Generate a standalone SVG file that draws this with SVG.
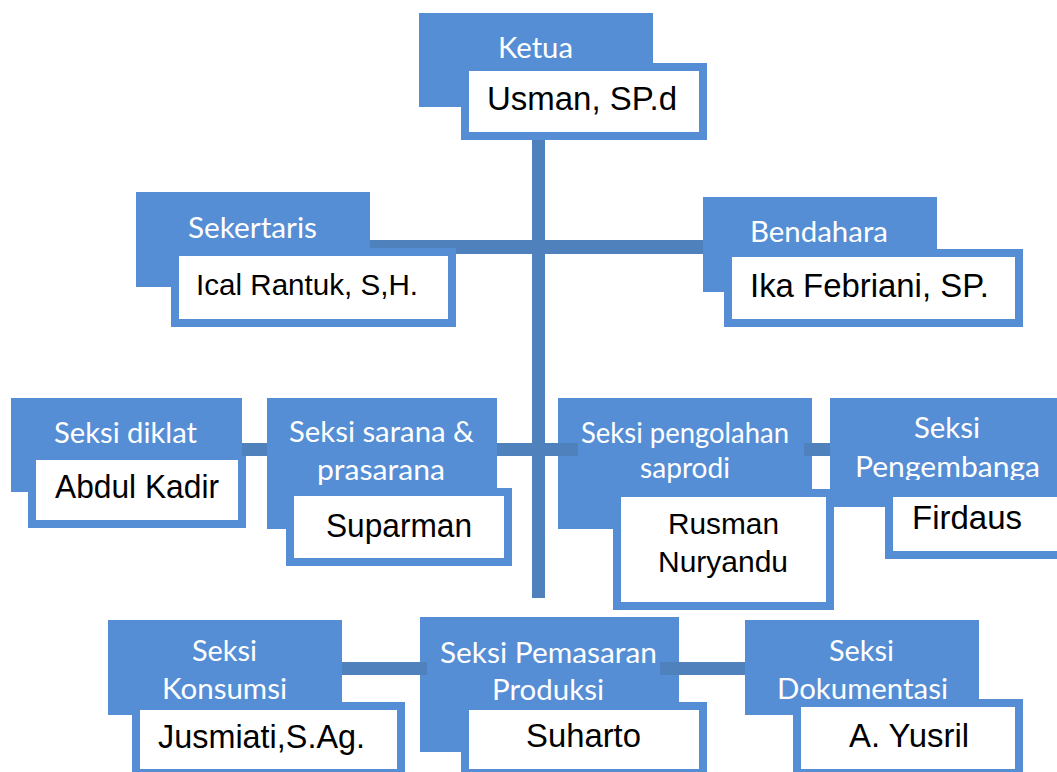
<svg xmlns="http://www.w3.org/2000/svg" width="1057" height="772" viewBox="0 0 1057 772">
<style>
.role{fill:#558ED5}
.name{fill:#FFFFFF;stroke:#558ED5;stroke-width:8}
.conn{fill:#4F81BD}
.lbl{font-family:Lato,"Open Sans",sans-serif;font-size:29.5px;fill:#FFFFFF}
.per{font-family:"Liberation Sans",Arial,sans-serif;font-size:32.5px;fill:#000000}
</style>
<defs>
<clipPath id="clipPeng"><rect x="830" y="398" width="227" height="82"/></clipPath>
</defs>
<rect width="1057" height="772" fill="#FFFFFF"/>

<g id="ketua">
<rect class="role" x="419" y="13" width="234" height="94"/>
<rect class="name" x="465" y="67" width="238" height="69"/>
<text class="lbl" x="498" y="58" textLength="75" lengthAdjust="spacingAndGlyphs">Ketua</text>
<text class="per" x="487" y="110" textLength="190" lengthAdjust="spacingAndGlyphs">Usman, SP.d</text>
</g>

<g id="sekertaris">
<rect class="role" x="136" y="192" width="234" height="95"/>
<rect class="name" x="175" y="252" width="277" height="71"/>
<text class="lbl" x="188" y="238" textLength="129" lengthAdjust="spacingAndGlyphs">Sekertaris</text>
<text class="per" x="196" y="295" style="font-size:30px" textLength="222" lengthAdjust="spacingAndGlyphs">Ical Rantuk, S,H.</text>
</g>

<g id="bendahara">
<rect class="role" x="703" y="197" width="234" height="95"/>
<rect class="name" x="728" y="253" width="291" height="70"/>
<text class="lbl" x="750" y="242" textLength="138" lengthAdjust="spacingAndGlyphs">Bendahara</text>
<text class="per" x="750" y="297" textLength="239" lengthAdjust="spacingAndGlyphs">Ika Febriani, SP.</text>
</g>

<g id="diklat">
<rect class="role" x="11" y="398" width="231" height="94"/>
<rect class="name" x="32" y="456" width="210" height="68"/>
<text class="lbl" x="54" y="443" textLength="143" lengthAdjust="spacingAndGlyphs">Seksi diklat</text>
<text class="per" x="55" y="498" textLength="164" lengthAdjust="spacingAndGlyphs">Abdul Kadir</text>
</g>

<g id="sarana">
<rect class="role" x="267" y="398" width="230" height="131"/>
<rect class="name" x="290" y="492" width="218" height="70"/>
<text class="lbl" x="289" y="442" textLength="185" lengthAdjust="spacingAndGlyphs">Seksi sarana &amp;</text>
<text class="lbl" x="317" y="480" textLength="128" lengthAdjust="spacingAndGlyphs">prasarana</text>
<text class="per" x="326" y="537" textLength="146" lengthAdjust="spacingAndGlyphs">Suparman</text>
</g>

<g id="pengolahan">
<rect class="role" x="558" y="398" width="254" height="131"/>
<rect class="name" x="617" y="493" width="213" height="113"/>
<text class="lbl" x="581" y="443" textLength="208" lengthAdjust="spacingAndGlyphs">Seksi pengolahan</text>
<text class="lbl" x="640" y="478" textLength="90" lengthAdjust="spacingAndGlyphs">saprodi</text>
<text class="per" x="668" y="534" style="font-size:29.5px" textLength="111" lengthAdjust="spacingAndGlyphs">Rusman</text>
<text class="per" x="658" y="572" style="font-size:29.5px" textLength="130" lengthAdjust="spacingAndGlyphs">Nuryandu</text>
</g>

<g id="pengembangan">
<rect class="role" x="830" y="398" width="230" height="109"/>
<rect class="name" x="889" y="493" width="180" height="62"/>
<text class="lbl" x="914" y="438" textLength="66" lengthAdjust="spacingAndGlyphs">Seksi</text>
<text class="lbl" x="855" y="477" textLength="185" lengthAdjust="spacingAndGlyphs" clip-path="url(#clipPeng)">Pengembanga</text>
<text class="per" x="912" y="529" textLength="110" lengthAdjust="spacingAndGlyphs">Firdaus</text>
</g>

<g id="konsumsi">
<rect class="role" x="108" y="620" width="234" height="95"/>
<rect class="name" x="136" y="706" width="265" height="67"/>
<text class="lbl" x="192" y="661" textLength="65" lengthAdjust="spacingAndGlyphs">Seksi</text>
<text class="lbl" x="162" y="699" textLength="125" lengthAdjust="spacingAndGlyphs">Konsumsi</text>
<text class="per" x="158" y="748" textLength="207" lengthAdjust="spacingAndGlyphs">Jusmiati,S.Ag.</text>
</g>

<g id="pemasaran">
<rect class="role" x="420" y="617" width="259" height="135"/>
<rect class="name" x="465" y="706" width="238" height="67"/>
<text class="lbl" x="440" y="663" textLength="217" lengthAdjust="spacingAndGlyphs">Seksi Pemasaran</text>
<text class="lbl" x="492" y="700" textLength="112" lengthAdjust="spacingAndGlyphs">Produksi</text>
<text class="per" x="526" y="747" textLength="115" lengthAdjust="spacingAndGlyphs">Suharto</text>
</g>

<g id="dokumentasi">
<rect class="role" x="745" y="620" width="234" height="95"/>
<rect class="name" x="797" y="703" width="222" height="70"/>
<text class="lbl" x="829" y="661" textLength="65" lengthAdjust="spacingAndGlyphs">Seksi</text>
<text class="lbl" x="777" y="699" textLength="171" lengthAdjust="spacingAndGlyphs">Dokumentasi</text>
<text class="per" x="849" y="747" textLength="120" lengthAdjust="spacingAndGlyphs">A. Yusril</text>
</g>

<g id="connectors">
<rect class="conn" x="532" y="140" width="13" height="458"/>
<path class="conn" d="M370,240 H703 V254 H456 V248 H370 Z"/>
<rect class="conn" x="242" y="443" width="25" height="13"/>
<rect class="conn" x="497" y="443" width="81" height="13"/>
<rect class="conn" x="804" y="443" width="26" height="13"/>
<rect class="conn" x="342" y="662" width="85" height="13"/>
<rect class="conn" x="660" y="662" width="85" height="13"/>
</g>
</svg>
